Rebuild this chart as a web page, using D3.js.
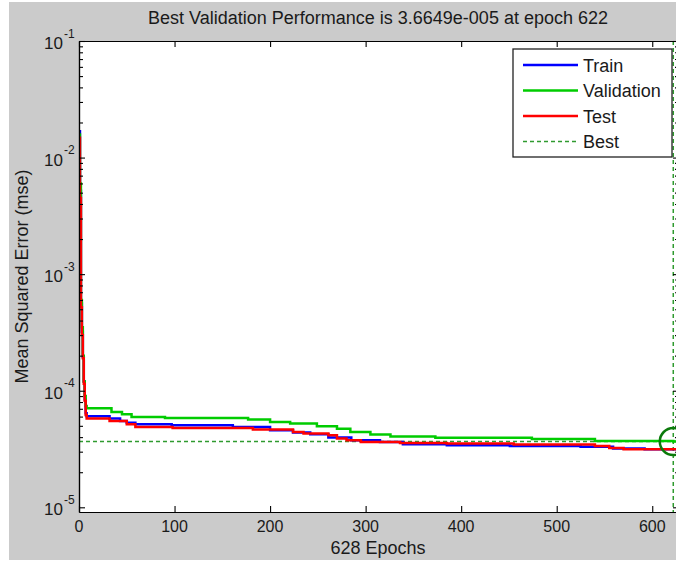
<!DOCTYPE html>
<html>
<head>
<meta charset="utf-8">
<script src="https://cdn.jsdelivr.net/npm/d3@7"></script>
<style>
  html, body { margin: 0; padding: 0; background: #ffffff; }
  svg { display: block; }
  text { font-family: "Liberation Sans", Arial, sans-serif; fill: #1a1a1a; }
</style>
</head>
<body>
<svg id="chart" width="676" height="562"></svg>
<script>
// ---------------- data ----------------
const titleText = "Best Validation Performance is 3.6649e-005 at epoch 622";
const xLabelText = "628 Epochs";
const yLabelText = "Mean Squared Error  (mse)";
const totalEpochs = 628;
const bestEpoch = 622;
const bestValue = 3.6649e-5;

const xTickValues = [0, 100, 200, 300, 400, 500, 600];
const yDecades = [1e-1, 1e-2, 1e-3, 1e-4, 1e-5];
const yDecadeExponents = ["-1", "-2", "-3", "-4", "-5"];

const trainEpochs = [0, 1, 2, 3, 4, 5, 6, 7, 8, 32, 43, 50, 59, 97, 161, 200, 224, 242, 261, 285, 315, 339, 385, 451, 525, 559, 592, 628];
const trainValues = [0.0168, 0.0052, 5.6e-4, 3.2e-4, 1.95e-4, 1.2e-4, 8.4e-5, 6.4e-5, 6.04e-5, 5.77e-5, 5.51e-5, 5.30e-5, 5.16e-5, 5.05e-5, 4.89e-5, 4.58e-5, 4.38e-5, 4.24e-5, 3.97e-5, 3.76e-5, 3.64e-5, 3.48e-5, 3.41e-5, 3.36e-5, 3.30e-5, 3.19e-5, 3.15e-5, 3.15e-5];

const valEpochs = [0, 1, 2, 3, 4, 5, 6, 7, 8, 34, 45, 55, 90, 177, 200, 221, 249, 270, 284, 305, 326, 373, 474, 540, 622, 628];
const valValues = [0.0158, 0.006, 6.0e-4, 3.5e-4, 2.0e-4, 1.2e-4, 9.0e-5, 7.4e-5, 7.08e-5, 6.58e-5, 6.29e-5, 5.96e-5, 5.84e-5, 5.66e-5, 5.40e-5, 5.23e-5, 4.96e-5, 4.73e-5, 4.43e-5, 4.21e-5, 4.05e-5, 3.95e-5, 3.85e-5, 3.71e-5, 3.6649e-5, 3.6649e-5];

const testEpochs = [0, 1, 2, 3, 4, 5, 6, 7, 8, 32, 50, 59, 98, 182, 224, 235, 261, 270, 280, 295, 336, 385, 455, 540, 555, 570, 628];
const testValues = [0.0148, 0.0045, 5.2e-4, 3.0e-4, 1.9e-4, 1.15e-4, 8.2e-5, 6.2e-5, 5.77e-5, 5.51e-5, 5.16e-5, 4.89e-5, 4.80e-5, 4.65e-5, 4.43e-5, 4.30e-5, 4.15e-5, 3.89e-5, 3.76e-5, 3.64e-5, 3.57e-5, 3.52e-5, 3.45e-5, 3.35e-5, 3.22e-5, 3.15e-5, 3.15e-5];

const seriesNames = ["Train", "Validation", "Test"];
const seriesColors = ["#0000ff", "#00cc00", "#ff0000"];

// ---------------- layout ----------------
const W = 676, H = 562;
const plot = { left: 79, right: 679, top: 41, bottom: 512 };
const svg = d3.select("#chart");

// background: thin white edge, grey figure
svg.append("rect").attr("x", 0).attr("y", 0).attr("width", W).attr("height", H).attr("fill", "#ffffff");
svg.append("rect").attr("x", 9).attr("y", 2).attr("width", W - 9).attr("height", H - 4).attr("fill", "#cbcbcb");

// scales
const x = d3.scaleLinear().domain([0, totalEpochs]).range([plot.left, plot.right]);
const pxPerDecade = 116.67;
const yBottomVal = Math.pow(10, -5 - (plot.bottom - 507.3) / pxPerDecade);
const y = d3.scaleLog().domain([yBottomVal, 1e-1]).range([plot.bottom, plot.top]);

// plot background
svg.append("rect")
  .attr("x", plot.left).attr("y", plot.top)
  .attr("width", plot.right - plot.left).attr("height", plot.bottom - plot.top)
  .attr("fill", "#ffffff");

svg.append("clipPath").attr("id", "clip")
  .append("rect")
  .attr("x", plot.left).attr("y", plot.top)
  .attr("width", plot.right - plot.left).attr("height", plot.bottom - plot.top);

const gPlot = svg.append("g").attr("clip-path", "url(#clip)");

// best lines (dotted green)
gPlot.append("line")
  .attr("x1", x(0)).attr("x2", x(totalEpochs))
  .attr("y1", y(bestValue)).attr("y2", y(bestValue))
  .attr("stroke", "#2f9a2f").attr("stroke-width", 1.5).attr("stroke-dasharray", "4,3");
gPlot.append("line")
  .attr("x1", x(bestEpoch)).attr("x2", x(bestEpoch))
  .attr("y1", plot.top).attr("y2", plot.bottom)
  .attr("stroke", "#2f9a2f").attr("stroke-width", 1.5).attr("stroke-dasharray", "4,3");

// series
const seriesData = [
  { epochs: trainEpochs, values: trainValues },
  { epochs: valEpochs, values: valValues },
  { epochs: testEpochs, values: testValues }
];
const lineGen = d3.line()
  .x(d => x(d[0]))
  .y(d => y(d[1]))
  .curve(d3.curveStepAfter);

seriesData.forEach((s, i) => {
  const pts = s.epochs.map((e, k) => [e, s.values[k]]);
  gPlot.append("path")
    .attr("d", lineGen(pts))
    .attr("fill", "none")
    .attr("stroke", seriesColors[i])
    .attr("stroke-width", 2.5)
    .attr("stroke-linejoin", "miter");
});

// best circle
gPlot.append("circle")
  .attr("cx", x(bestEpoch)).attr("cy", y(bestValue)).attr("r", 13.5)
  .attr("fill", "none").attr("stroke", "#0b7a0b").attr("stroke-width", 2.5);

// ---------------- axes ----------------
const minorVals = [];
for (let p = -5; p < -1; p++) {
  for (let m = 2; m <= 9; m++) minorVals.push(m * Math.pow(10, p));
}

function styleAxis(g) {
  g.selectAll("path.domain").attr("stroke", "#000").attr("stroke-width", 1.2);
  g.selectAll(".tick line").attr("stroke", "#000").attr("stroke-width", 1.1);
  g.selectAll(".tick text").remove();
}

// left
svg.append("g").attr("transform", `translate(${plot.left},0)`)
  .call(d3.axisLeft(y).tickValues(yDecades).tickSize(-6).tickSizeOuter(0).tickFormat(""))
  .call(styleAxis);
svg.append("g").attr("transform", `translate(${plot.left},0)`)
  .call(d3.axisLeft(y).tickValues(minorVals).tickSize(-4).tickSizeOuter(0).tickFormat(""))
  .call(styleAxis);
// right
svg.append("g").attr("transform", `translate(${plot.right},0)`)
  .call(d3.axisRight(y).tickValues(yDecades).tickSize(-6).tickSizeOuter(0).tickFormat(""))
  .call(styleAxis);
svg.append("g").attr("transform", `translate(${plot.right},0)`)
  .call(d3.axisRight(y).tickValues(minorVals).tickSize(-4).tickSizeOuter(0).tickFormat(""))
  .call(styleAxis);
// bottom
svg.append("g").attr("transform", `translate(0,${plot.bottom})`)
  .call(d3.axisBottom(x).tickValues(xTickValues).tickSize(-6).tickSizeOuter(0).tickFormat(""))
  .call(styleAxis);
// top
svg.append("g").attr("transform", `translate(0,${plot.top})`)
  .call(d3.axisTop(x).tickValues(xTickValues).tickSize(-6).tickSizeOuter(0).tickFormat(""))
  .call(styleAxis);

// x tick labels
svg.append("g").selectAll("text").data(xTickValues).join("text")
  .attr("x", d => x(d)).attr("y", plot.bottom + 20)
  .attr("text-anchor", "middle").attr("font-size", 16)
  .text(d => d);

// y tick labels with superscripts
const yl = svg.append("g");
yDecades.forEach((d, i) => {
  const ty = y(d);
  yl.append("text").attr("x", 63).attr("y", ty + 8)
    .attr("text-anchor", "end").attr("font-size", 17).text("10");
  yl.append("text").attr("x", 64).attr("y", ty - 3.5)
    .attr("text-anchor", "start").attr("font-size", 12).text(yDecadeExponents[i]);
});

// title & labels
svg.append("text").attr("x", (plot.left + plot.right) / 2 - 1).attr("y", 24)
  .attr("text-anchor", "middle").attr("font-size", 18).text(titleText);
svg.append("text").attr("x", (plot.left + plot.right) / 2 - 1).attr("y", 554)
  .attr("text-anchor", "middle").attr("font-size", 18).text(xLabelText);
svg.append("text")
  .attr("transform", `translate(28,${(plot.top + plot.bottom) / 2}) rotate(-90)`)
  .attr("text-anchor", "middle").attr("font-size", 18).text(yLabelText);

// ---------------- legend ----------------
const leg = { x: 513, y: 49, w: 159, h: 108 };
svg.append("rect").attr("x", leg.x).attr("y", leg.y).attr("width", leg.w).attr("height", leg.h)
  .attr("fill", "#ffffff").attr("stroke", "#222").attr("stroke-width", 1.3);
const legendNames = seriesNames.concat(["Best"]);
const legendColors = seriesColors.concat(["#2f9a2f"]);
legendNames.forEach((name, i) => {
  const ly = 65 + i * 25.5;
  svg.append("line").attr("x1", 523).attr("x2", 578).attr("y1", ly).attr("y2", ly)
    .attr("stroke", legendColors[i])
    .attr("stroke-width", name === "Best" ? 1.5 : 2.5)
    .attr("stroke-dasharray", name === "Best" ? "4,3" : null);
  svg.append("text").attr("x", 583).attr("y", ly + 6.5)
    .attr("font-size", 18).text(name);
});
</script>
</body>
</html>
